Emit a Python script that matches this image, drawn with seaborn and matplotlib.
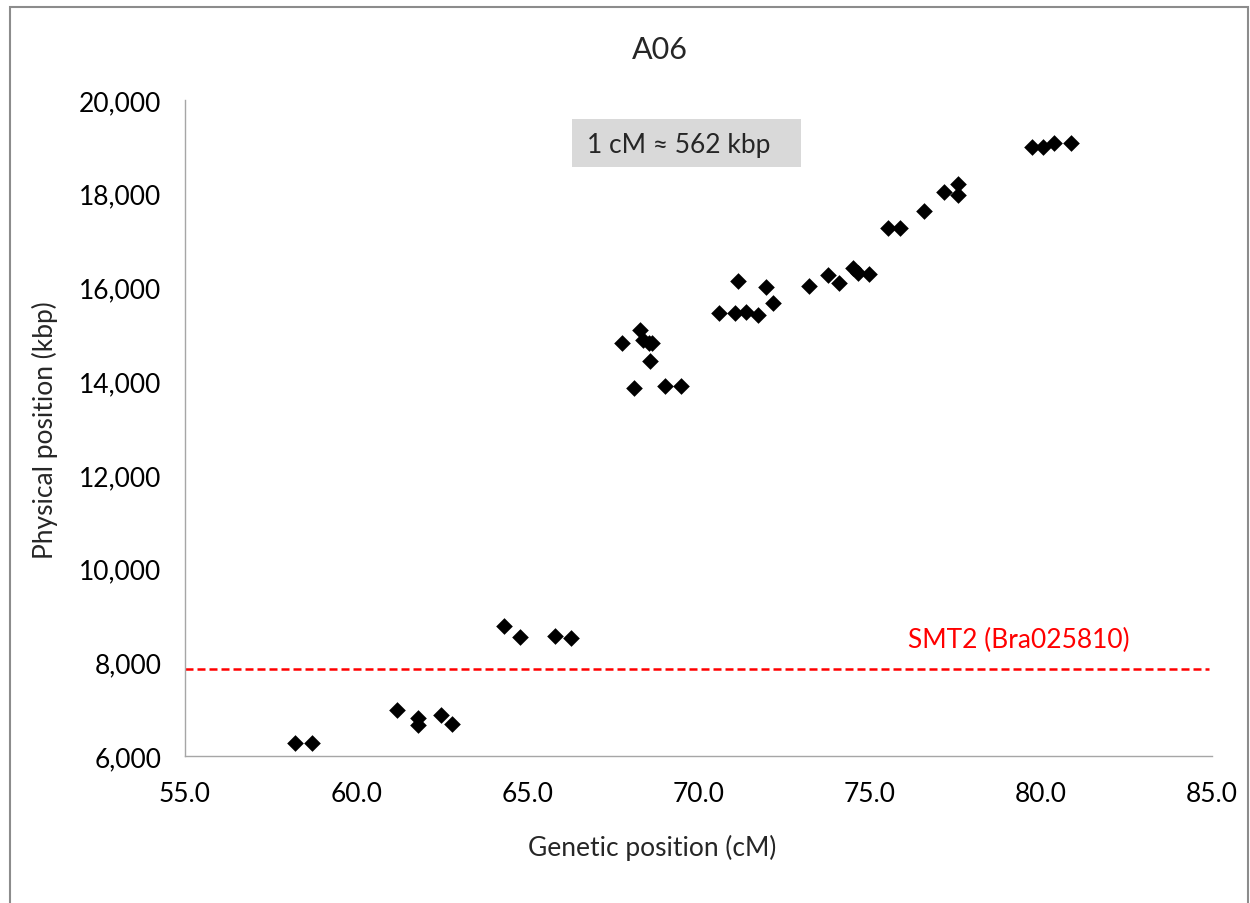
import matplotlib
matplotlib.use("Agg")
import matplotlib.pyplot as plt
import seaborn as sns
import pandas as pd
from matplotlib.ticker import MultipleLocator, FuncFormatter
from matplotlib.patches import Rectangle

# ---- data ----
genetic_cM = [58.21, 58.70, 61.19, 61.81, 61.81, 62.49, 62.81,
              64.31, 64.80, 65.82, 66.29,
              67.77, 68.28, 68.37, 68.55, 68.65, 68.57, 68.13, 69.01, 69.49,
              70.59, 71.08, 71.39, 71.73, 71.15, 71.97, 72.19,
              73.24, 73.77, 74.11, 74.50, 74.65, 74.99,
              75.55, 75.88, 76.59, 77.18, 77.59, 77.59,
              79.75, 80.07, 80.39, 80.87]
physical_kbp = [6280, 6280, 6990, 6805, 6665, 6885, 6685,
                8785, 8550, 8560, 8515,
                14820, 15090, 14875, 14805, 14805, 14425, 13860, 13890, 13900,
                15445, 15445, 15480, 15410, 16135, 16015, 15660,
                16025, 16265, 16100, 16420, 16300, 16285,
                17275, 17275, 17640, 18045, 18210, 17975,
                18995, 18995, 19080, 19080]
smt2_kbp = 7863
smt2_label = "SMT2 (Bra025810)"
ratio_label = "1 cM \u2248 562 kbp"
title = "A06"
x_label = "Genetic position (cM)"
y_label = "Physical position (kbp)"

df = pd.DataFrame({"cM": genetic_cM, "kbp": physical_kbp})

sns.set_style("white")
plt.rcParams["font.family"] = ["Lato", "DejaVu Sans"]

FS = 19

fig = plt.figure(figsize=(12.5, 9.04), dpi=100)
ax = fig.add_axes([185 / 1250, 1 - 757 / 904, (1212 - 185) / 1250, (757 - 101) / 904])

sns.scatterplot(data=df, x="cM", y="kbp", marker="D", color="black",
                s=72, linewidth=0, ax=ax, zorder=3)

ax.axhline(smt2_kbp, xmin=0, xmax=0.997, color="#ff0000", linestyle=(0, (3.2, 1.6)),
           linewidth=1.8, zorder=2)
ax.text(79.35, 8480, smt2_label, color="#ff0000", fontsize=FS,
        ha="center", va="center")

ax.set_xlim(55, 85)
ax.set_ylim(6000, 20000)
ax.xaxis.set_major_locator(MultipleLocator(5))
ax.xaxis.set_minor_locator(MultipleLocator(1))
ax.yaxis.set_major_locator(MultipleLocator(2000))
ax.yaxis.set_minor_locator(MultipleLocator(400))
ax.xaxis.set_major_formatter(FuncFormatter(lambda v, p: f"{v:.1f}"))
ax.yaxis.set_major_formatter(FuncFormatter(lambda v, p: f"{v:,.0f}"))

for s in ["top", "right"]:
    ax.spines[s].set_visible(False)
for s in ["left", "bottom"]:
    ax.spines[s].set_color("#a6a6a6")
    ax.spines[s].set_linewidth(1.0)

ax.tick_params(axis="both", which="major", direction="inout", length=12,
               width=1.0, color="#a6a6a6", labelsize=FS, labelcolor="black")
ax.tick_params(axis="both", which="minor", direction="in", length=5,
               width=1.0, color="#a6a6a6")
ax.tick_params(axis="x", which="major", pad=12)
ax.tick_params(axis="y", which="major", pad=11)

ax.set_xlabel(x_label, fontsize=FS)
ax.set_ylabel(y_label, fontsize=FS)
ax.xaxis.set_label_coords((652 - 185) / 1027, (757 - 848) / 656)
ax.yaxis.set_label_coords((45 - 185) / 1027, (757 - 430) / 656)
ax.xaxis.label.set_va("center")
ax.yaxis.label.set_va("center")

fig.text(660 / 1250, 1 - 50 / 904, title, fontsize=22, ha="center", va="center")

# ratio annotation box
ax.add_patch(Rectangle(((572 - 185) / 1027, (757 - 168) / 656), 229 / 1027, 48 / 656,
                       transform=ax.transAxes, facecolor="#d9d9d9", edgecolor="none",
                       zorder=1))
ax.text((587 - 185) / 1027, (757 - 145) / 656, ratio_label, transform=ax.transAxes,
        fontsize=FS, ha="left", va="center", zorder=2)

# chart border
fig.add_artist(Rectangle((10 / 1250, -0.02), 1238 / 1250, 1.02 - 8 / 904,
                         transform=fig.transFigure, fill=False,
                         edgecolor="#8c8c8c", linewidth=1.5))

fig.savefig("out.png", dpi=100, facecolor="white")
